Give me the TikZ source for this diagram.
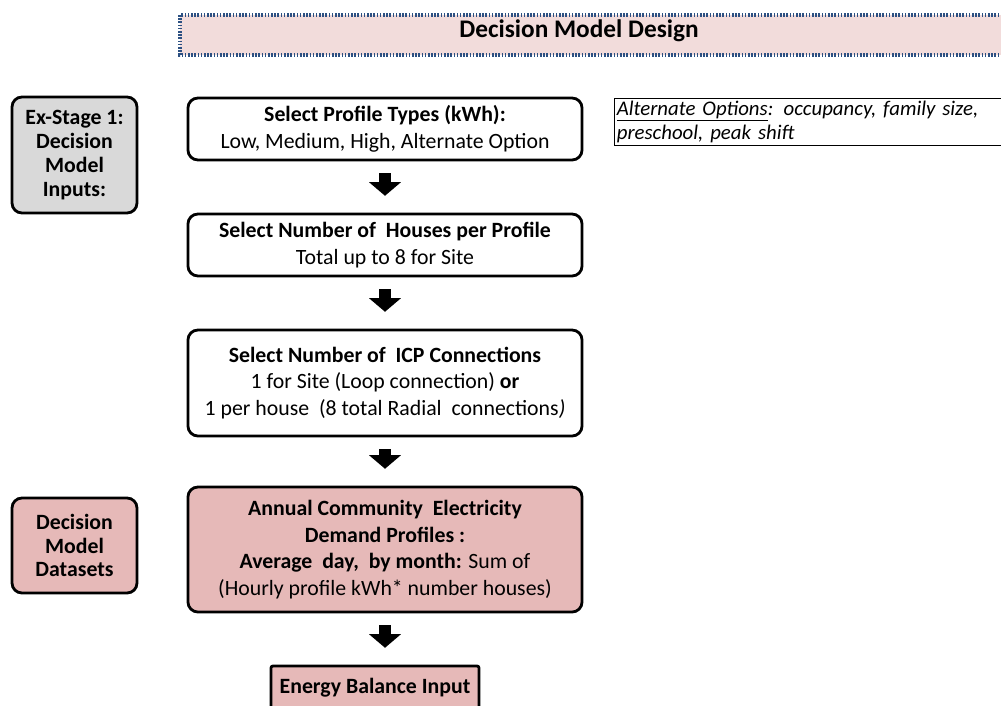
\documentclass[tikz,border=0pt]{standalone}
\usepackage{fontspec}
\setmainfont{Carlito}
\usetikzlibrary{arrows.meta}
\definecolor{inputgrey}{RGB}{217,217,217}
\definecolor{datapink}{RGB}{230,185,184}
\definecolor{titlepink}{RGB}{242,220,219}
\definecolor{titleblue}{RGB}{44,80,130}
\tikzstyle{stepbox}=[draw, rounded corners=0.25cm, line width=0.07cm, align=center, minimum width=9.85cm, font=\fontsize{15.5}{19}\selectfont]
\tikzset{sidebox/.style={draw, rounded corners=0.25cm, line width=0.07cm, align=center, minimum width=3.125cm, font=\fontsize{15.5}{17}\selectfont\bfseries}}
\tikzset{datastep/.style={stepbox, fill=datapink}}
\tikzstyle{flow}=[line width=0.28cm, -{Triangle[width=0.78cm,length=0.34cm]}, shorten <=0.3cm, shorten >=0.42cm]

\begin{document}
\begin{tikzpicture}[x=0.025cm,y=-0.025cm]
  \useasboundingbox (0,0) rectangle (1001,705);
  %% Title
  \draw[titleblue, fill=titlepink, line width=0.08cm, dash pattern=on 0.04cm off 0.04cm] (180,15) rectangle (1012,55);
  \draw (579,31) node[font=\fontsize{18}{21}\selectfont\bfseries] (title) {Decision Model Design};

  %% Side labels
  \draw (74.5,155) node[sidebox, fill=inputgrey, minimum height=2.9cm] (inputs) {Ex-Stage 1:\\Decision\\Model\\Inputs:};
  \draw (74.5,545.5) node[sidebox, fill=datapink, minimum height=2.375cm] (datasets) {Decision\\Model\\Datasets};

  %% Steps
  \draw (385,129) node[stepbox, minimum height=1.55cm] (S1) {\textbf{Select Profile Types (kWh):}\\Low, Medium, High, Alternate Option};
  \draw (385,245) node[stepbox, minimum height=1.55cm] (S2) {\textbf{Select Number of\ \ Houses per Profile}\\Total up to 8 for Site};
  \draw (385,383) node[stepbox, minimum height=2.65cm] (S3) {\textbf{Select Number of\ \ ICP Connections}\\1 for Site (Loop connection) \textbf{or}\\1 per house\ \ (8 total Radial\ \ connections\textit{)}};
  \draw (385,549.5) node[datastep, minimum height=3.125cm] (S4) {\textbf{Annual Community\ \ Electricity}\\\textbf{Demand Profiles :}\\\textbf{Average\ \ day,\ \ by month:} Sum of\\(Hourly profile kWh* number houses)};
  \draw (375,688) node[datastep, rounded corners=0.05cm, minimum width=5.2cm, minimum height=1.1cm] (S5) {\textbf{Energy Balance Input}};

  %% Note
  \draw (614,98) node[draw, line width=0.02cm, anchor=north west, text width=10cm, inner sep=0.06cm, align=left, font=\fontsize{14.8}{17.5}\selectfont\itshape] (note) {\underline{Alternate Options}: occupancy, family size,\\preschool, peak shift};

  %% Arrows
  \draw[flow] (S1) -- (S2);
  \draw[flow] (S2) -- (S3);
  \draw[flow] (S3) -- (S4);
  \draw[flow] (S4.south) -- (S4.south |- S5.north);
\end{tikzpicture}
\end{document}
